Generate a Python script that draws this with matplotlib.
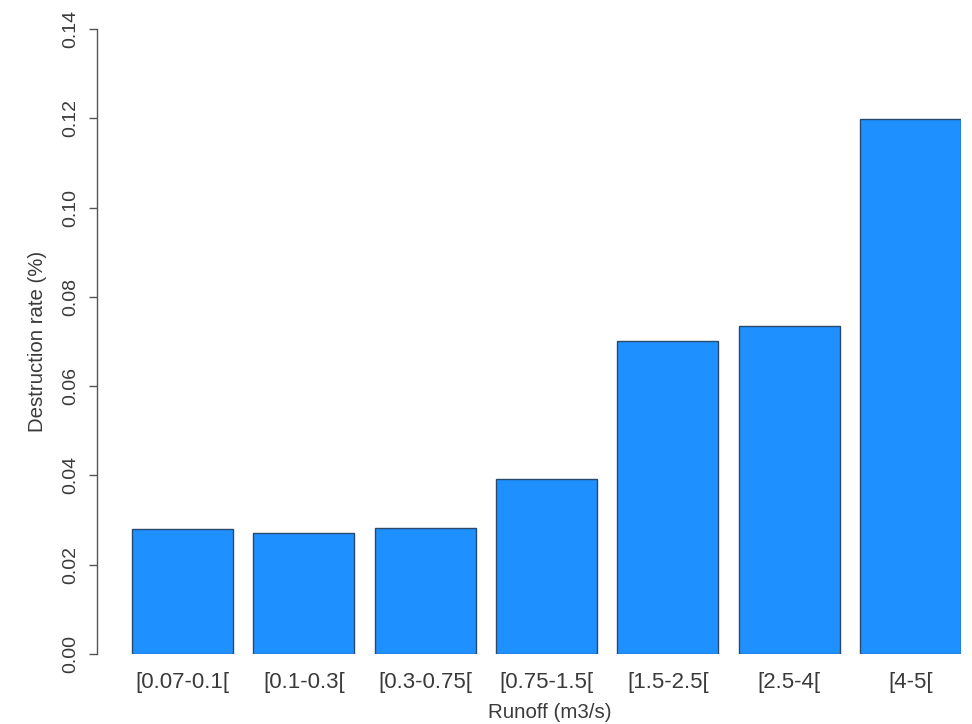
import matplotlib
matplotlib.use("Agg")
import matplotlib.pyplot as plt

categories = ["[0.07-0.1[", "[0.1-0.3[", "[0.3-0.75[", "[0.75-1.5[",
              "[1.5-2.5[", "[2.5-4[", "[4-5["]
rates = [0.0280, 0.0271, 0.0283, 0.0392, 0.0701, 0.0735, 0.1199]
yticks = [0.00, 0.02, 0.04, 0.06, 0.08, 0.10, 0.12, 0.14]

plt.rcParams["font.family"] = ["Liberation Sans", "DejaVu Sans"]
text_col = "#3a3a3a"

W, H = 972, 724
fig = plt.figure(figsize=(W / 100, H / 100), dpi=100)
# axes box in pixels: left 97, right 961, bottom y=654, top y=29
ax = fig.add_axes([97 / W, (H - 654) / H, (961 - 97) / W, (654 - 29) / H])

# R barplot layout: width 1, space 0.2
xs = [0.7 + 1.2 * i for i in range(len(categories))]
ax.bar(xs, rates, width=1.0, color="#1E90FF", edgecolor="#2b4a6b", linewidth=1.0)

ax.set_xlim(-0.146, 8.4)
ax.set_ylim(0, 0.14)
for s in ["top", "right", "bottom"]:
    ax.spines[s].set_visible(False)
ax.spines["left"].set_color("#555555")
ax.spines["left"].set_linewidth(1.0)

ax.set_yticks(yticks)
ax.set_yticklabels([f"{v:.2f}" for v in yticks], rotation=90, va="center",
                   fontsize=14, color=text_col)
ax.tick_params(axis="y", length=6, width=1.0, color="#555555", pad=7)

ax.set_xticks(xs)
ax.set_xticklabels(categories, fontsize=16, color=text_col)
ax.tick_params(axis="x", length=0, pad=13)

ax.set_xlabel("Runoff (m3/s)", fontsize=14.8, color=text_col)
ax.xaxis.set_label_coords((550 - 97) / (961 - 97), -(712 - 654) / (654 - 29), transform=ax.transAxes)
ax.xaxis.label.set_va("center")
ax.set_ylabel("Destruction rate (%)", fontsize=14.7, color=text_col)
ax.yaxis.set_label_coords(-(97 - 37) / (961 - 97), (654 - 341) / (654 - 29), transform=ax.transAxes)
ax.yaxis.label.set_va("center")

fig.savefig("out.png", dpi=100)
